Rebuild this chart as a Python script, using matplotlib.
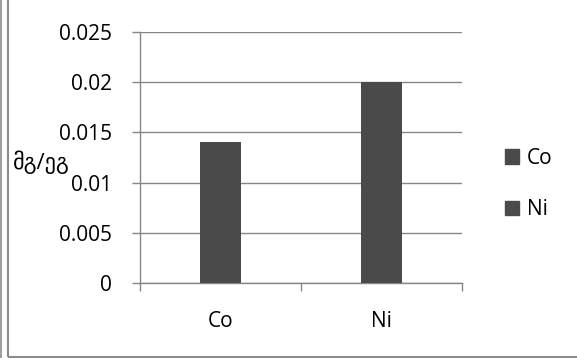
import matplotlib.pyplot as plt
from matplotlib.patches import Rectangle
from matplotlib.lines import Line2D

metals = ["Co", "Ni"]
values = [0.014, 0.02]
y_ticks = [0, 0.005, 0.01, 0.015, 0.02, 0.025]
y_tick_labels = ["0", "0.005", "0.01", "0.015", "0.02", "0.025"]
y_label = "მგ/ეგ"

plt.rcParams["font.family"] = ["Open Sans", "DejaVu Sans"]

bar_color = "#4a4a4a"
grid_color = "#868686"
fs = 15

fig = plt.figure(figsize=(5.77, 3.58), dpi=100)
ax = fig.add_axes([140 / 577, 1 - 283 / 358, 322 / 577, 251 / 358])

x = list(range(len(metals)))
bars = ax.bar(x, values, width=0.26, color=bar_color, zorder=3)

ax.set_xlim(-0.5, len(metals) - 0.5)
ax.set_ylim(0, 0.025)
ax.set_yticks(y_ticks)
ax.set_yticklabels(y_tick_labels, fontsize=fs)
ax.yaxis.grid(True, color=grid_color, linewidth=1.0)
ax.set_axisbelow(True)

ax.set_xticks(x)
ax.set_xticklabels(metals, fontsize=fs)
ax.set_xticks([-0.5, 0.5, 1.5], minor=True)
ax.tick_params(axis="x", which="major", length=0, pad=20)
ax.tick_params(axis="x", which="minor", length=6, color=grid_color, width=1.0)
ax.tick_params(axis="y", length=6, color=grid_color, width=1.0, pad=14)

for side in ("top", "right"):
    ax.spines[side].set_visible(False)
for side in ("left", "bottom"):
    ax.spines[side].set_color(grid_color)
    ax.spines[side].set_linewidth(1.0)

fig.text(13 / 577, 1 - 162 / 358, y_label, fontsize=16, ha="left", va="center")

# legend: one entry per metal, same fill
handles = [Rectangle((0, 0), 1, 1, color=bar_color) for _ in metals]
fig.legend(handles, metals, loc="center left",
           bbox_to_anchor=(486 / 577, 1 - 184 / 358),
           frameon=False, fontsize=fs, handlelength=0.7, handleheight=0.7,
           handletextpad=0.35, labelspacing=1.45)

# chart frame
fig.add_artist(Rectangle((7.5 / 577, 1.5 / 358), 1.2, 1.2,
                         transform=fig.transFigure, fill=False,
                         edgecolor="#8c8c8c", linewidth=1.5))
fig.add_artist(Line2D([0.6 / 577, 0.6 / 577], [0, 1],
                      transform=fig.transFigure, color="#8c8c8c", linewidth=1.2))

fig.savefig("out.png", dpi=100)
